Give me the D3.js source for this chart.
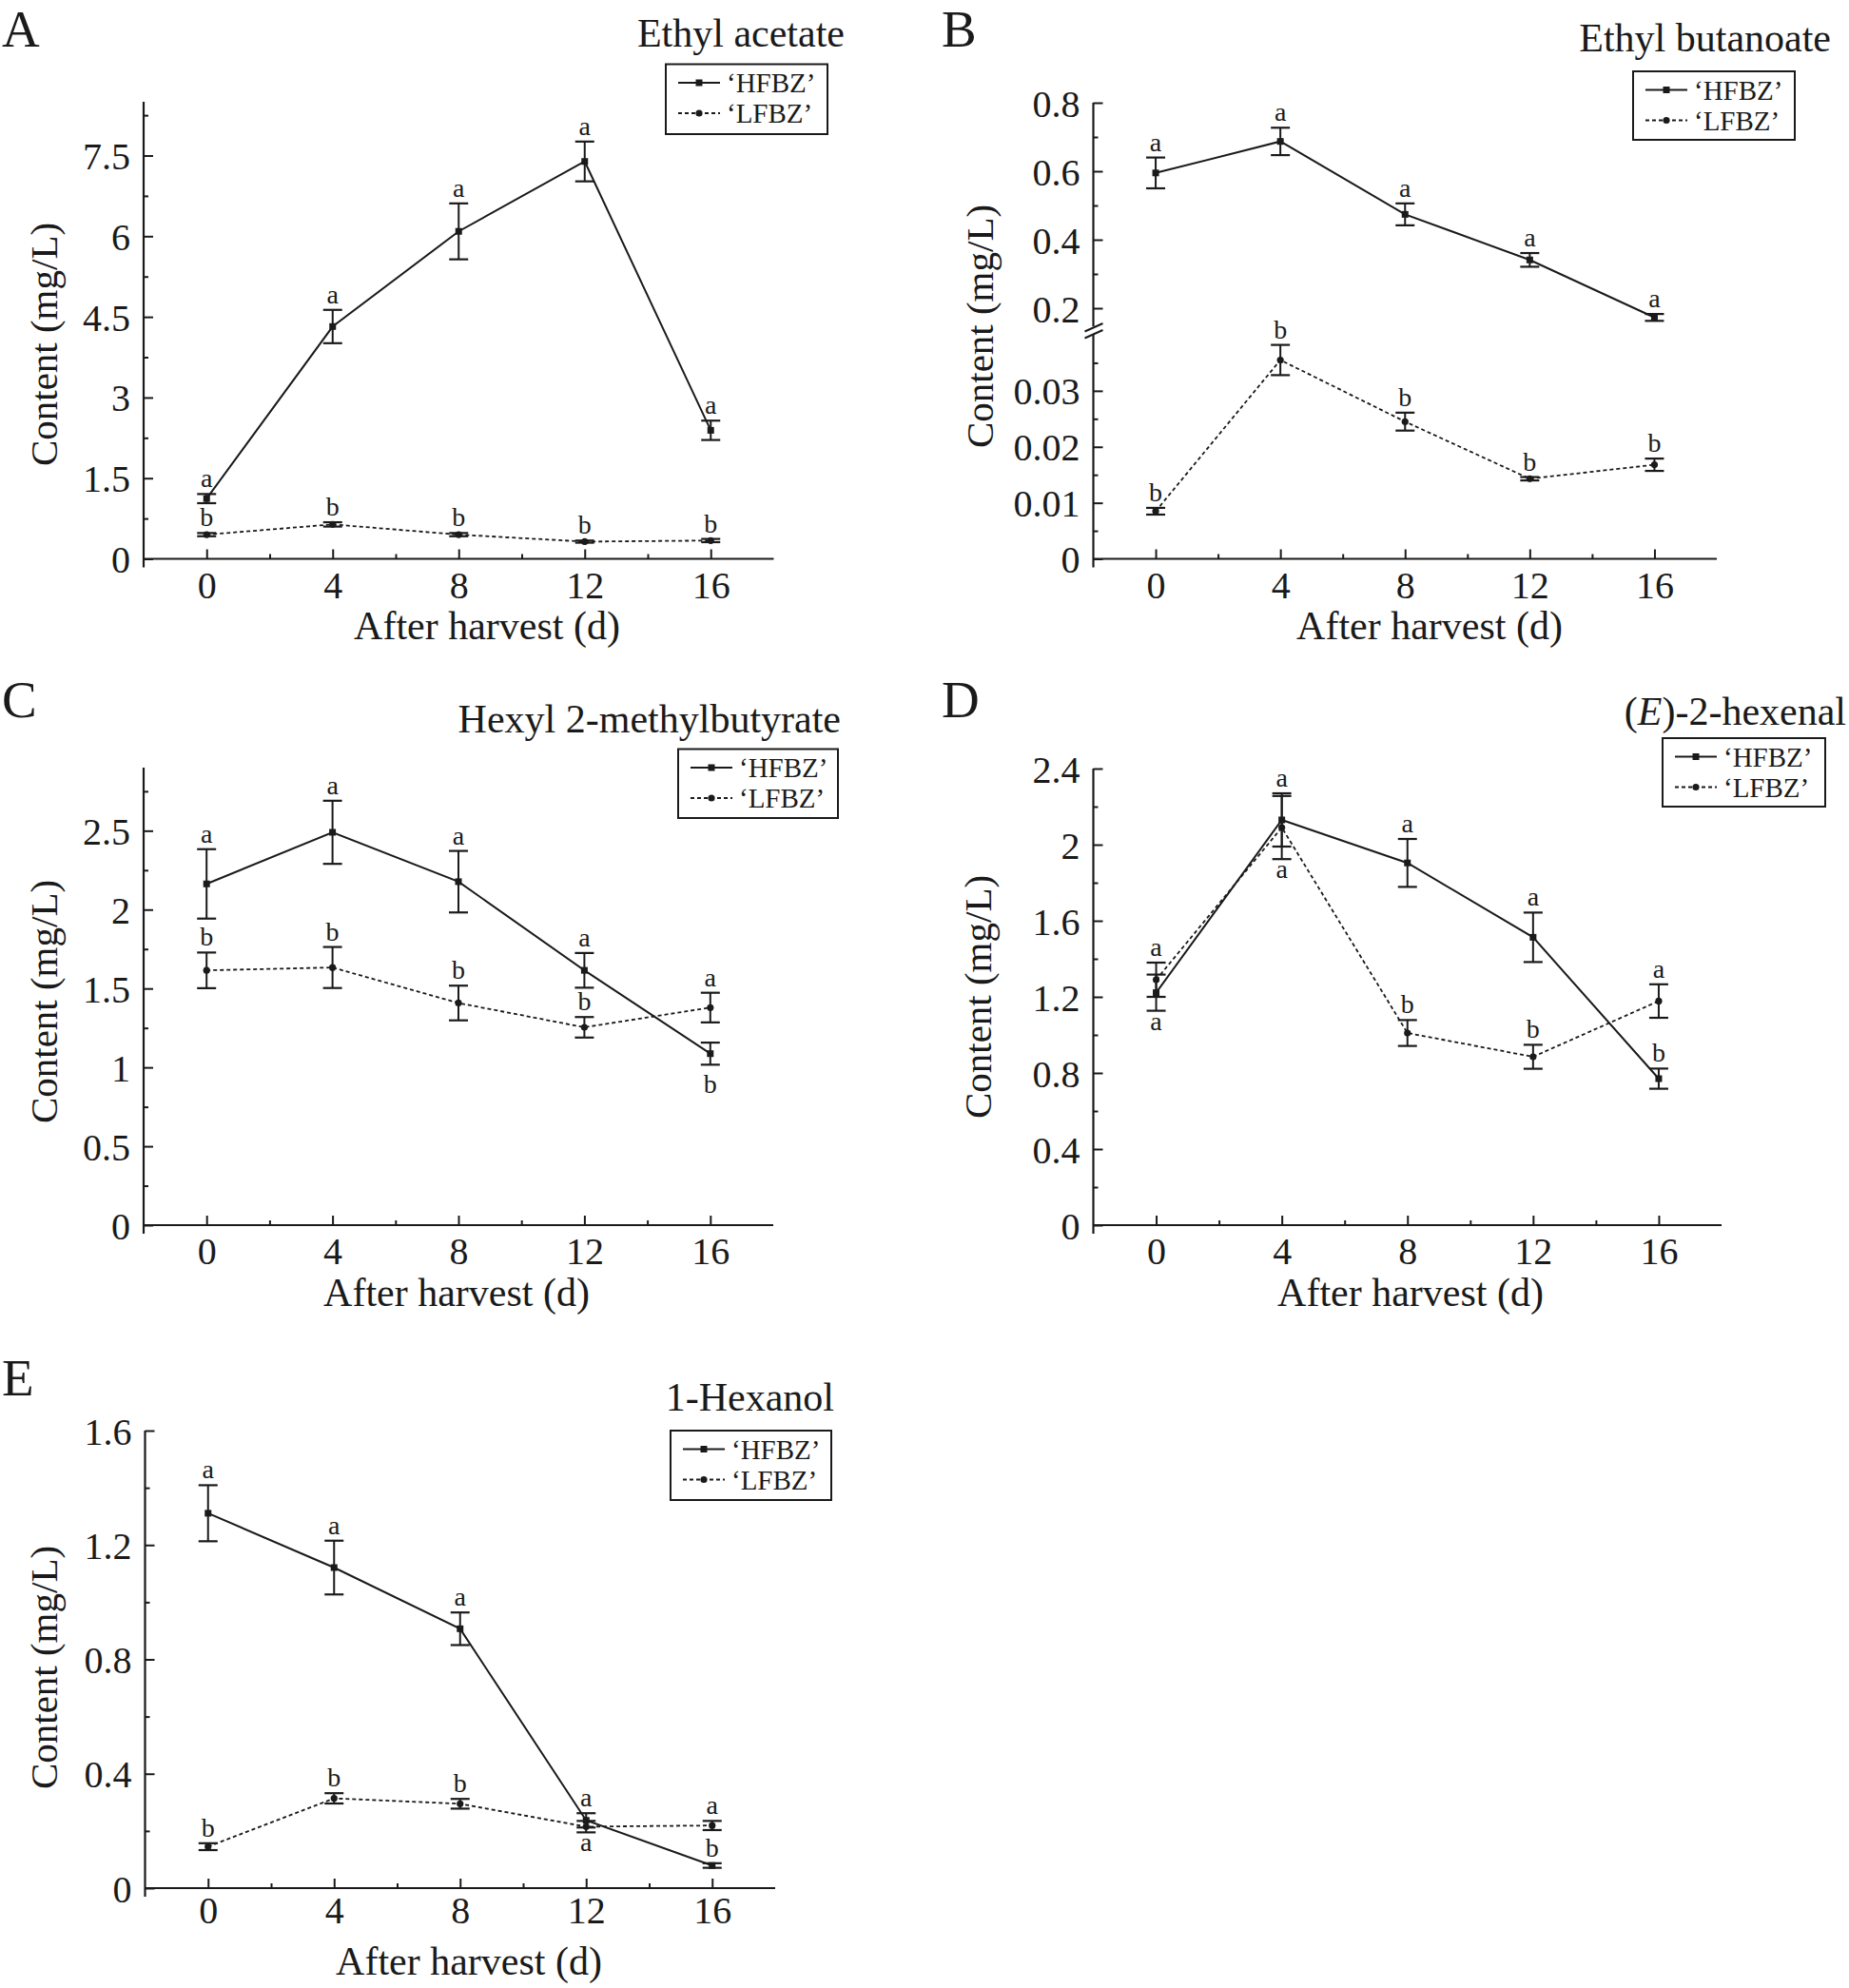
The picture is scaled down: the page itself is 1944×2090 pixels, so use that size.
<!DOCTYPE html>
<html><head><meta charset="utf-8">
<script src="https://cdn.jsdelivr.net/npm/d3@7"></script>
<style>
body{margin:0;background:#fff}
svg{display:block}
text{font-family:"Liberation Serif","Times New Roman",serif;fill:#1a1a1a}
</style>
</head><body>
<svg id="chart" width="1944" height="2090"></svg>
<script>
// ---------------- DATA ----------------
const days = [0, 4, 8, 12, 16];
const xMinorTicks = [2, 6, 10, 14];
const seriesNames = ["\u2018HFBZ\u2019", "\u2018LFBZ\u2019"];
const xAxisTitle = "After harvest (d)";
const yAxisTitle = "Content (mg/L)";

// A — Ethyl acetate
const titleA = "Ethyl acetate";
const hfbzA = [1.12, 4.32, 6.09, 7.39, 2.39];
const hfbzErrA = [0.085, 0.31, 0.52, 0.37, 0.18];
const lfbzA = [0.45, 0.64, 0.45, 0.32, 0.34];
const lfbzErrA = [0.03, 0.04, 0.03, 0.02, 0.03];
const hfbzSigA = ["a", "a", "a", "a", "a"];
const hfbzSigPosA = ["up", "up", "up", "up", "up"];
const lfbzSigA = ["b", "b", "b", "b", "b"];
const lfbzSigPosA = ["up", "up", "up", "up", "up"];
const yTicksA = [0, 1.5, 3, 4.5, 6, 7.5];
const yMinorA = [0.75, 2.25, 3.75, 5.25, 6.75, 8.25];
const yTickLabelsA = ["0", "1.5", "3", "4.5", "6", "7.5"];

// B — Ethyl butanoate (broken axis)
const titleB = "Ethyl butanoate";
const hfbzB = [0.595, 0.687, 0.474, 0.341, 0.173];
const hfbzErrB = [0.045, 0.04, 0.032, 0.02, 0.01];
const lfbzB = [0.0085, 0.0355, 0.0245, 0.0143, 0.0168];
const lfbzErrB = [0.0006, 0.0027, 0.0016, 0.0003, 0.0011];
const hfbzSigB = ["a", "a", "a", "a", "a"];
const hfbzSigPosB = ["up", "up", "up", "up", "up"];
const lfbzSigB = ["b", "b", "b", "b", "b"];
const lfbzSigPosB = ["up", "up", "up", "up", "up"];
const yTicksBUpper = [0.2, 0.4, 0.6, 0.8];
const yMinorBUpper = [0.3, 0.5, 0.7];
const yTickLabelsBUpper = ["0.2", "0.4", "0.6", "0.8"];
const yTicksBLower = [0, 0.01, 0.02, 0.03];
const yMinorBLower = [0.005, 0.015, 0.025, 0.035];
const yTickLabelsBLower = ["0", "0.01", "0.02", "0.03"];

// C — Hexyl 2-methylbutyrate
const titleC = "Hexyl 2-methylbutyrate";
const hfbzC = [2.163, 2.49, 2.177, 1.615, 1.087];
const hfbzErrC = [0.22, 0.2, 0.195, 0.11, 0.07];
const lfbzC = [1.615, 1.633, 1.408, 1.254, 1.379];
const lfbzErrC = [0.113, 0.13, 0.11, 0.065, 0.094];
const hfbzSigC = ["a", "a", "a", "a", "b"];
const hfbzSigPosC = ["up", "up", "up", "up", "down"];
const lfbzSigC = ["b", "b", "b", "b", "a"];
const lfbzSigPosC = ["up", "up", "up", "up", "up"];
const yTicksC = [0, 0.5, 1, 1.5, 2, 2.5];
const yMinorC = [0.25, 0.75, 1.25, 1.75, 2.25, 2.75];
const yTickLabelsC = ["0", "0.5", "1", "1.5", "2", "2.5"];

// D — (E)-2-hexenal
const titleD = "(E)-2-hexenal";
const hfbzD = [1.222, 2.13, 1.904, 1.513, 0.77];
const hfbzErrD = [0.095, 0.14, 0.126, 0.13, 0.053];
const lfbzD = [1.29, 2.09, 1.01, 0.885, 1.178];
const lfbzErrD = [0.09, 0.166, 0.068, 0.063, 0.088];
const hfbzSigD = ["a", "a", "a", "a", "b"];
const hfbzSigPosD = ["down", "up", "up", "up", "up"];
const lfbzSigD = ["a", "a", "b", "b", "a"];
const lfbzSigPosD = ["up", "down", "up", "up", "up"];
const yTicksD = [0, 0.4, 0.8, 1.2, 1.6, 2, 2.4];
const yMinorD = [0.2, 0.6, 1.0, 1.4, 1.8, 2.2];
const yTickLabelsD = ["0", "0.4", "0.8", "1.2", "1.6", "2", "2.4"];

// E — 1-Hexanol
const titleE = "1-Hexanol";
const hfbzE = [1.311, 1.121, 0.907, 0.237, 0.079];
const hfbzErrE = [0.098, 0.094, 0.057, 0.025, 0.008];
const lfbzE = [0.145, 0.314, 0.295, 0.215, 0.219];
const lfbzErrE = [0.012, 0.018, 0.017, 0.02, 0.016];
const hfbzSigE = ["a", "a", "a", "a", "b"];
const hfbzSigPosE = ["up", "up", "up", "up", "up"];
const lfbzSigE = ["b", "b", "b", "a", "a"];
const lfbzSigPosE = ["up", "up", "up", "down", "up"];
const yTicksE = [0, 0.4, 0.8, 1.2, 1.6];
const yMinorE = [0.2, 0.6, 1.0, 1.4];
const yTickLabelsE = ["0", "0.4", "0.8", "1.2", "1.6"];

// ---------------- LAYOUT ----------------
const INK = "#1a1a1a";
const svg = d3.select("#chart");

const panels = [
  {letter:"A", title:titleA, h:hfbzA, he:hfbzErrA, l:lfbzA, le:lfbzErrA,
   hs:hfbzSigA, hsp:hfbzSigPosA, ls:lfbzSigA, lsp:lfbzSigPosA,
   segs:[{domain:[0,8.5], ticks:yTicksA, minor:yMinorA, labels:yTickLabelsA}],
   frame:{x0:151, x1:813.5, y0:107, y1:587.5},
   letterPos:[2,49], titlePos:[888,49], legend:[700,67.5,170,73.5],
   yLab:[60,362], xLab:[512,672], xTickDy:41},
  {letter:"B", title:titleB, h:hfbzB, he:hfbzErrB, l:lfbzB, le:lfbzErrB,
   hs:hfbzSigB, hsp:hfbzSigPosB, ls:lfbzSigB, lsp:lfbzSigPosB,
   broken:true,
   segs:[{domain:[0.15,0.8], range:[342,108], ticks:yTicksBUpper, minor:yMinorBUpper, labels:yTickLabelsBUpper},
         {domain:[0,0.04], range:[587.5,352], ticks:yTicksBLower, minor:yMinorBLower, labels:yTickLabelsBLower}],
   frame:{x0:1149.5, x1:1805, y0:108, y1:587.5},
   letterPos:[990,49], titlePos:[1925,54], legend:[1717,75,170,72],
   yLab:[1044,343], xLab:[1503,672], xTickDy:41},
  {letter:"C", title:titleC, h:hfbzC, he:hfbzErrC, l:lfbzC, le:lfbzErrC,
   hs:hfbzSigC, hsp:hfbzSigPosC, ls:lfbzSigC, lsp:lfbzSigPosC,
   segs:[{domain:[0,2.9], ticks:yTicksC, minor:yMinorC, labels:yTickLabelsC}],
   frame:{x0:151, x1:813, y0:807, y1:1288},
   letterPos:[2,754], titlePos:[884,770], legend:[713,787.5,168,72.5],
   yLab:[60,1053], xLab:[480,1373], xTickDy:41},
  {letter:"D", title:titleD, italicE:true, h:hfbzD, he:hfbzErrD, l:lfbzD, le:lfbzErrD,
   hs:hfbzSigD, hsp:hfbzSigPosD, ls:lfbzSigD, lsp:lfbzSigPosD,
   segs:[{domain:[0,2.4], ticks:yTicksD, minor:yMinorD, labels:yTickLabelsD}],
   frame:{x0:1149.5, x1:1810, y0:808, y1:1288},
   letterPos:[990,754], titlePos:[1941,762], legend:[1748,776,171,72],
   yLab:[1042,1048], xLab:[1483,1373], xTickDy:41},
  {letter:"E", title:titleE, h:hfbzE, he:hfbzErrE, l:lfbzE, le:lfbzErrE,
   hs:hfbzSigE, hsp:hfbzSigPosE, ls:lfbzSigE, lsp:lfbzSigPosE,
   segs:[{domain:[0,1.6], ticks:yTicksE, minor:yMinorE, labels:yTickLabelsE}],
   frame:{x0:152.5, x1:815, y0:1504, y1:1985},
   letterPos:[2,1467], titlePos:[877,1483], legend:[705,1504,169,73],
   yLab:[60,1753], xLab:[493,2076], xTickDy:37}
];

function drawPanel(p) {
  const g = svg.append("g");
  const f = p.frame;
  const x = d3.scaleLinear().domain([-2, 18]).range([f.x0, f.x1]);

  const scales = p.segs.map(s => d3.scaleLinear().domain(s.domain)
      .range(s.range ? s.range : [f.y1, f.y0]));
  const yH = scales[0];
  const yL = p.broken ? scales[1] : scales[0];

  // ---- Axes ----
  p.segs.forEach((s, i) => {
    const sc = scales[i];
    const ax = g.append("g").attr("transform", `translate(${f.x0},0)`)
      .call(d3.axisLeft(sc).tickValues(s.ticks).tickSizeInner(-10).tickSizeOuter(0)
        .tickPadding(14).tickFormat((d, j) => s.labels[j]));
    ax.select(".domain").remove();
    ax.selectAll(".tick line").attr("stroke", INK).attr("stroke-width", 2);
    ax.selectAll(".tick text").attr("font-size", 40).attr("fill", INK)
      .attr("font-family", "Liberation Serif, Times New Roman, serif")
      .attr("dy", null).attr("y", 14);
    const mx = g.append("g").attr("transform", `translate(${f.x0},0)`)
      .call(d3.axisLeft(sc).tickValues(s.minor).tickSizeInner(-5).tickSizeOuter(0).tickFormat(""));
    mx.select(".domain").remove();
    mx.selectAll(".tick line").attr("stroke", INK).attr("stroke-width", 2);
  });

  if (p.broken) {
    const up = p.segs[0].range, lo = p.segs[1].range;
    g.append("line").attr("x1", f.x0).attr("x2", f.x0).attr("y1", up[1]).attr("y2", up[0] + 1)
      .attr("stroke", INK).attr("stroke-width", 2.2);
    g.append("line").attr("x1", f.x0).attr("x2", f.x0).attr("y1", lo[1] - 1).attr("y2", f.y1 + 9)
      .attr("stroke", INK).attr("stroke-width", 2.2);
    [0, 7].forEach(o => {
      g.append("line").attr("x1", f.x0 - 9).attr("y1", 348.5 + o).attr("x2", f.x0 + 10).attr("y2", 340 + o)
        .attr("stroke", INK).attr("stroke-width", 2);
    });
  } else {
    g.append("line").attr("x1", f.x0).attr("x2", f.x0).attr("y1", f.y0).attr("y2", f.y1 + 9)
      .attr("stroke", INK).attr("stroke-width", 2.2);
  }

  const xa = g.append("g").attr("transform", `translate(0,${f.y1})`)
    .call(d3.axisBottom(x).tickValues(days).tickSizeInner(-10).tickSizeOuter(0).tickPadding(0));
  xa.select(".domain").remove();
  xa.selectAll(".tick line").attr("stroke", INK).attr("stroke-width", 2);
  xa.selectAll(".tick text").attr("font-size", 40).attr("fill", INK)
    .attr("font-family", "Liberation Serif, Times New Roman, serif")
    .attr("dy", null).attr("y", p.xTickDy);
  const xm = g.append("g").attr("transform", `translate(0,${f.y1})`)
    .call(d3.axisBottom(x).tickValues(xMinorTicks).tickSizeInner(-5).tickSizeOuter(0).tickFormat(""));
  xm.select(".domain").remove();
  xm.selectAll(".tick line").attr("stroke", INK).attr("stroke-width", 2);
  g.append("line").attr("x1", f.x0).attr("x2", f.x1).attr("y1", f.y1).attr("y2", f.y1)
    .attr("stroke", INK).attr("stroke-width", 2.2);

  // ---- Series ----
  const mk = (vals, errs, sig, sigPos) => days.map((d, i) => ({d, v: vals[i], e: errs[i], s: sig[i], sp: sigPos[i]}));
  const dataH = mk(p.h, p.he, p.hs, p.hsp);
  const dataL = mk(p.l, p.le, p.ls, p.lsp);

  function drawSeries(data, y, dashed, square) {
    const line = d3.line().x(d => x(d.d)).y(d => y(d.v));
    g.append("path").datum(data).attr("d", line).attr("fill", "none")
      .attr("stroke", INK).attr("stroke-width", dashed ? 1.8 : 2)
      .attr("stroke-dasharray", dashed ? "4,3" : null);
    const eb = g.append("g").selectAll("g").data(data).join("g");
    eb.append("line").attr("x1", d => x(d.d)).attr("x2", d => x(d.d))
      .attr("y1", d => y(d.v - d.e)).attr("y2", d => y(d.v + d.e))
      .attr("stroke", INK).attr("stroke-width", 2);
    eb.append("line").attr("x1", d => x(d.d) - 10).attr("x2", d => x(d.d) + 10)
      .attr("y1", d => y(d.v + d.e)).attr("y2", d => y(d.v + d.e))
      .attr("stroke", INK).attr("stroke-width", 2.2);
    eb.append("line").attr("x1", d => x(d.d) - 10).attr("x2", d => x(d.d) + 10)
      .attr("y1", d => y(d.v - d.e)).attr("y2", d => y(d.v - d.e))
      .attr("stroke", INK).attr("stroke-width", 2.2);
    if (square) {
      g.append("g").selectAll("rect").data(data).join("rect")
        .attr("x", d => x(d.d) - 3.5).attr("y", d => y(d.v) - 3.5)
        .attr("width", 7).attr("height", 7).attr("fill", INK);
    } else {
      g.append("g").selectAll("circle").data(data).join("circle")
        .attr("cx", d => x(d.d)).attr("cy", d => y(d.v)).attr("r", 3.6).attr("fill", INK);
    }
    g.append("g").selectAll("text").data(data).join("text")
      .attr("x", d => x(d.d))
      .attr("y", d => d.sp === "up" ? y(d.v + d.e) - 7 : y(d.v - d.e) + (d.s === "b" ? 30 : 20))
      .attr("text-anchor", "middle").attr("font-size", 28).text(d => d.s);
  }
  drawSeries(dataL, yL, true, false);
  drawSeries(dataH, yH, false, true);

  // ---- Texts ----
  g.append("text").attr("x", p.letterPos[0]).attr("y", p.letterPos[1])
    .attr("font-size", 55).text(p.letter);
  const t = g.append("text").attr("x", p.titlePos[0]).attr("y", p.titlePos[1])
    .attr("text-anchor", "end").attr("font-size", 42);
  if (p.italicE) {
    t.append("tspan").text("(");
    t.append("tspan").attr("font-style", "italic").text("E");
    t.append("tspan").text(")-2-hexenal");
  } else t.text(p.title);

  g.append("text").attr("transform", `translate(${p.yLab[0]},${p.yLab[1]}) rotate(-90)`)
    .attr("text-anchor", "middle").attr("font-size", 41).text(yAxisTitle);
  g.append("text").attr("x", p.xLab[0]).attr("y", p.xLab[1])
    .attr("text-anchor", "middle").attr("font-size", 42).text(xAxisTitle);

  // ---- Legend ----
  const [lx, ly, lw, lh] = p.legend;
  const lg = g.append("g").attr("transform", `translate(${lx},${ly})`);
  lg.append("rect").attr("x", 0).attr("y", 0).attr("width", lw).attr("height", lh)
    .attr("fill", "#fff").attr("stroke", INK).attr("stroke-width", 2);
  [0, 1].forEach(i => {
    const yy = 19.5 + i * 32;
    lg.append("line").attr("x1", 13).attr("x2", 57).attr("y1", yy).attr("y2", yy)
      .attr("stroke", INK).attr("stroke-width", i ? 1.8 : 2).attr("stroke-dasharray", i ? "4,3" : null);
    if (i === 0) lg.append("rect").attr("x", 35 - 3.5).attr("y", yy - 3.5).attr("width", 7).attr("height", 7).attr("fill", INK);
    else lg.append("circle").attr("cx", 35).attr("cy", yy).attr("r", 3.6).attr("fill", INK);
    lg.append("text").attr("x", 64).attr("y", yy + 10).attr("font-size", 29).text(seriesNames[i]);
  });
}

panels.forEach(drawPanel);
</script>
</body></html>
